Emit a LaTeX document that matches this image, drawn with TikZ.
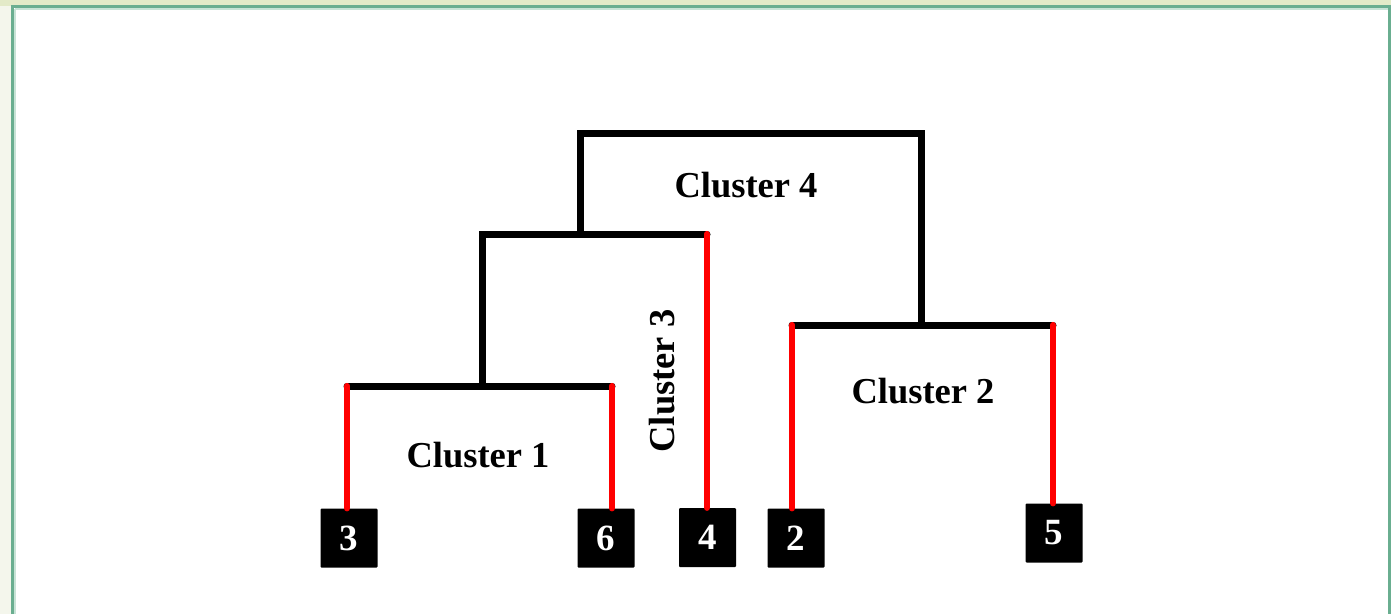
\documentclass[tikz,border=0pt]{standalone}
\usepackage{fontspec}
\setmainfont{Liberation Serif}
\definecolor{frameG}{HTML}{6AAE90}
\definecolor{frameL}{HTML}{C8E3D6}
\definecolor{bgTop}{HTML}{E3EAC8}
\definecolor{bgLeft}{HTML}{F4F6EC}
\tikzset{
  leaf/.style={fill=black, text=white, font=\fontsize{37}{37}\selectfont\bfseries, minimum width=57pt, minimum height=59pt, inner sep=0pt, rounded corners=1pt},
  blk/.style={line width=7pt, black, line cap=round, line join=miter},
  redl/.style={line width=6.2pt, red, line cap=round},
  clab/.style={font=\fontsize{36.5}{36.5}\selectfont\bfseries, inner sep=0pt}
}
\begin{document}
\begin{tikzpicture}[x=1pt,y=-1pt]
\useasboundingbox (0,0) rectangle (1391,614);
% background
\fill[bgLeft] (0,0) rectangle (1391,614);
\fill[bgTop] (0,0) rectangle (1391,6);
\fill[white] (13,7) rectangle (1390,614);
\draw[frameL, line width=1.5pt] (15,9) -- (1388,9);
\draw[frameL, line width=1.5pt] (15,9) -- (15,614);
\draw[frameG, line width=3pt] (12.5,614) -- (12.5,6.5) -- (1389.5,6.5) -- (1389.5,614);
% leaves
\node[leaf] (n3) at (349,538) {3};
\node[leaf] (n6) at (606,538) {6};
\node[leaf] (n4) at (707.5,537.5) {4};
\node[leaf] (n2) at (796,538) {2};
\node[leaf] (n5) at (1054,533) {5};
% bracket corners
\coordinate (c1l) at (347,386);
\coordinate (c1r) at (612,386);
\coordinate (c1m) at (482,386);
\coordinate (c3l) at (482,234);
\coordinate (c3r) at (707,234);
\coordinate (c3m) at (580,234);
\coordinate (c2l) at (792,325);
\coordinate (c2r) at (1053,325);
\coordinate (c2m) at (921,325);
\coordinate (c4l) at (580,133);
\coordinate (c4r) at (921,133);
% black links
\draw[blk] (c1l) -- (c1r);
\draw[blk] (c1m) -- (c3l) -- (c3r);
\draw[blk] (c2l) -- (c2r);
\draw[blk] (c3m) -- (c4l) -- (c4r) -- (c2m);
% red links
\draw[redl] (c1l) -- (c1l |- n3.north);
\draw[redl] (c1r) -- (c1r |- n6.north);
\draw[redl] (c3r) -- (c3r |- n4.north);
\draw[redl] (c2l) -- (c2l |- n2.north);
\draw[redl] (c2r) -- (c2r |- n5.north);
% labels
\node[clab, anchor=base] (l1) at (478,467) {Cluster 1};
\node[clab, anchor=base] (l2) at (923,403) {Cluster 2};
\node[clab, anchor=base] (l4) at (746,197) {Cluster 4};
\node[clab, rotate=90] (l3) at (662,381) {Cluster 3};
\end{tikzpicture}
\end{document}
